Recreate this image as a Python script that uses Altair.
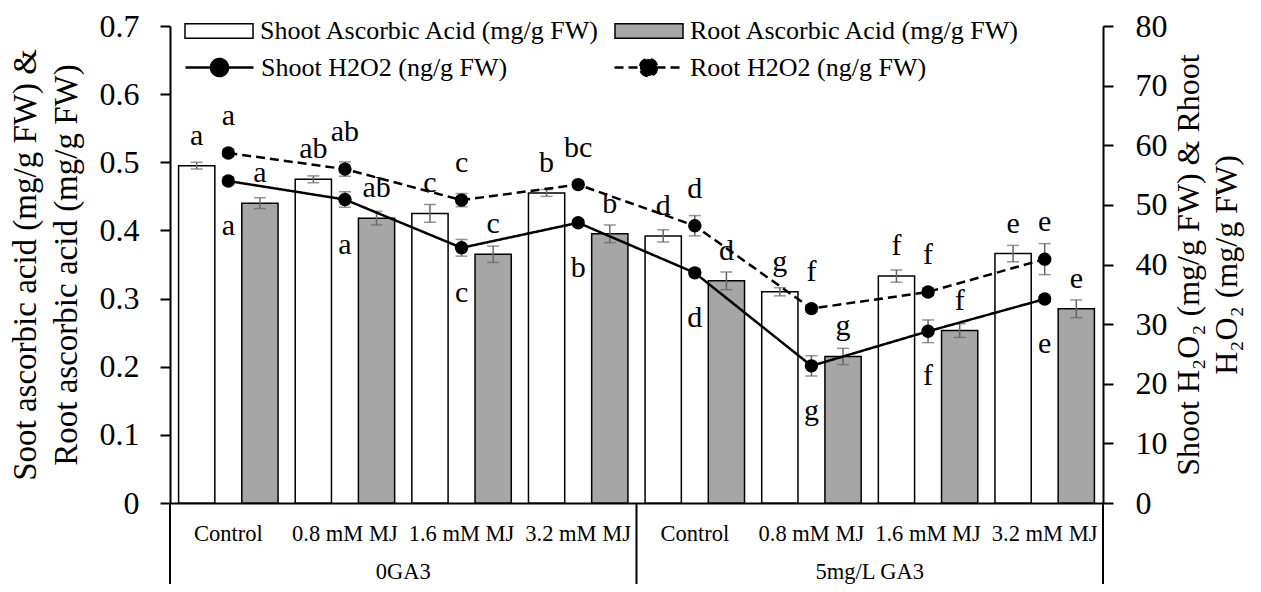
import altair as alt
import pandas as pd

FONT = "Liberation Serif"

groups = ["0GA3"] * 4 + ["5mg/L GA3"] * 4
treatments = ["Control", "0.8 mM MJ", "1.6 mM MJ", "3.2 mM MJ"] * 2

shoot_aa = [0.495, 0.475, 0.425, 0.455, 0.392, 0.310, 0.333, 0.366]
shoot_aa_err = [0.005, 0.005, 0.013, 0.005, 0.009, 0.006, 0.009, 0.012]
root_aa = [0.440, 0.418, 0.365, 0.395, 0.326, 0.215, 0.253, 0.285]
root_aa_err = [0.008, 0.010, 0.012, 0.013, 0.013, 0.012, 0.010, 0.013]
shoot_h2o2 = [54.0, 50.9, 42.8, 47.0, 38.6, 23.0, 28.8, 34.2]
shoot_h2o2_err = [0.6, 1.3, 1.4, 0.5, 0.6, 1.7, 1.9, 0.4]
root_h2o2 = [58.7, 56.0, 50.8, 53.4, 46.5, 32.6, 35.4, 40.9]
root_h2o2_err = [0.6, 1.2, 1.1, 0.5, 1.7, 0.6, 0.6, 2.6]

shoot_aa_letters = ["a", "ab", "c", "b", "d", "g", "f", "e"]
root_aa_letters = ["a", "ab", "c", "b", "d", "g", "f", "e"]
shoot_h2o2_letters = ["a", "a", "c", "b", "d", "g", "f", "e"]
root_h2o2_letters = ["a", "ab", "c", "bc", "d", "f", "f", "e"]

aa_series = ["Shoot Ascorbic Acid (mg/g FW)", "Root Ascorbic Acid (mg/g FW)"]
h2_series = ["Shoot H2O2 (ng/g FW)", "Root H2O2 (ng/g FW)"]
group_names = ["0GA3", "5mg/L GA3"]

keys = [f"{i}|{t}" for i, t in enumerate(treatments)]

bar_rows = []
for i, k in enumerate(keys):
    bar_rows.append(dict(key=k, series=aa_series[0], value=shoot_aa[i],
                         lo=shoot_aa[i] - shoot_aa_err[i], hi=shoot_aa[i] + shoot_aa_err[i],
                         letter=shoot_aa_letters[i]))
    bar_rows.append(dict(key=k, series=aa_series[1], value=root_aa[i],
                         lo=root_aa[i] - root_aa_err[i], hi=root_aa[i] + root_aa_err[i],
                         letter=root_aa_letters[i]))
df_bar = pd.DataFrame(bar_rows)

pt_rows = []
for i, k in enumerate(keys):
    pt_rows.append(dict(key=k, idx=i, series=h2_series[0], value=shoot_h2o2[i],
                        lo=shoot_h2o2[i] - shoot_h2o2_err[i], hi=shoot_h2o2[i] + shoot_h2o2_err[i],
                        letter=shoot_h2o2_letters[i]))
    pt_rows.append(dict(key=k, idx=i, series=h2_series[1], value=root_h2o2[i],
                        lo=root_h2o2[i] - root_h2o2_err[i], hi=root_h2o2[i] + root_h2o2_err[i],
                        letter=root_h2o2_letters[i]))
df_pt = pd.DataFrame(pt_rows)

df_grp = pd.DataFrame({"key": [keys[2], keys[6]], "grp": group_names})
df_sep = pd.DataFrame({"key": [keys[0], keys[4]]})
df_sep_end = pd.DataFrame({"key": [keys[7]]})

W, H = 933, 477
ERR_COLOR = "#666666"

x_scale = alt.Scale(domain=keys, paddingInner=0, paddingOuter=0)
x_axis = alt.Axis(labelExpr="split(datum.label, '|')[1]", ticks=False,
                  labelFontSize=22.5, labelPadding=19, domainWidth=2,
                  labelAngle=0, labelOverlap=False, labelLimit=0, title=None)


def X(**kw):
    return alt.X("key:N", scale=x_scale, axis=x_axis, title=None, **kw)


xoff = alt.XOffset("series:N", scale=alt.Scale(domain=aa_series, paddingInner=0.4265,
                                              paddingOuter=0.136))

left_scale = alt.Scale(domain=[0, 0.7], nice=False, zero=True)
right_scale = alt.Scale(domain=[0, 80], nice=False, zero=True)

left_title = ["Soot ascorbic acid (mg/g FW) &", "Root ascorbic acid (mg/g FW)"]
right_title = ["Shoot H\u2082O\u2082 (mg/g FW) & Rhoot", "H\u2082O\u2082 (mg/g FW)"]

left_axis = alt.Axis(orient="left", values=[0, 0.1, 0.2, 0.3, 0.4, 0.5, 0.6, 0.7], format="~g",
                     tickSize=10, tickWidth=2, domainWidth=2, labelFontSize=32, labelPadding=21,
                     title=left_title, titleFontSize=33, titleLineHeight=41, titlePadding=16)
right_axis = alt.Axis(orient="right", values=list(range(0, 81, 10)),
                      tickSize=10, tickWidth=2, domainWidth=2, labelFontSize=32, labelPadding=22,
                      title=right_title, titleFontSize=32, titleLineHeight=38, titlePadding=0,
                      titleAngle=270)


def YL(field):
    return alt.Y(field, scale=left_scale, axis=left_axis, title=left_title)


def YR(field):
    return alt.Y(field, scale=right_scale, axis=right_axis, title=right_title)


rect_path = "M-1,-0.215H1V0.215H-1Z"
line_dot_path = "M-1,0H1M0.25,0A0.25,0.25,0,1,1,-0.25,0A0.25,0.25,0,1,1,0.25,0Z"

bars = alt.Chart(df_bar).mark_bar(stroke="black", strokeWidth=1.5).encode(
    x=X(), xOffset=xoff,
    y=YL("value:Q"),
    fill=alt.Fill("series:N", scale=alt.Scale(domain=aa_series, range=["white", "#a6a6a6"]),
                  legend=alt.Legend(orient="none", legendX=14, legendY=-30, direction="horizontal",
                                    columns=2, title=None, symbolType=rect_path, symbolSize=4624,
                                    symbolStrokeColor="black", symbolStrokeWidth=1.5,
                                    labelFont=FONT, labelFontSize=26, labelOffset=6,
                                    columnPadding=11, labelLimit=0, padding=0)),
)
bar_err = alt.Chart(df_bar).mark_rule(color=ERR_COLOR, strokeWidth=1.5).encode(
    x=X(), xOffset=xoff, y=YL("lo:Q"), y2="hi:Q")
bar_cap_hi = alt.Chart(df_bar).mark_tick(color=ERR_COLOR, thickness=1.5, size=12).encode(
    x=X(), xOffset=xoff, y=YL("hi:Q"))
bar_cap_lo = alt.Chart(df_bar).mark_tick(color=ERR_COLOR, thickness=1.5, size=12).encode(
    x=X(), xOffset=xoff, y=YL("lo:Q"))
bar_txt = alt.Chart(df_bar).mark_text(font=FONT, fontSize=30, baseline="middle", dy=-30,
                                      color="black").encode(
    x=X(), xOffset=xoff, y=YL("value:Q"), text="letter:N")

left_layer = alt.layer(bars, bar_err, bar_cap_hi, bar_cap_lo, bar_txt)

lines = alt.Chart(df_pt).mark_line(color="black", strokeWidth=2.5).encode(
    x=X(),
    y=YR("value:Q"),
    strokeDash=alt.StrokeDash("series:N", scale=alt.Scale(domain=h2_series, range=[[1, 0], [9, 5]]),
                              legend=alt.Legend(orient="none", legendX=14, legendY=6,
                                                direction="horizontal", columns=2, title=None,
                                                symbolType=line_dot_path, symbolSize=4624,
                                                symbolStrokeColor="black", symbolFillColor="black",
                                                symbolStrokeWidth=2.5, labelFont=FONT,
                                                labelFontSize=26, labelOffset=6, columnPadding=101,
                                                labelLimit=0, padding=0)),
    order="idx:Q",
)
pt_err = alt.Chart(df_pt).mark_rule(color=ERR_COLOR, strokeWidth=1.5).encode(
    x=X(), y=YR("lo:Q"), y2="hi:Q")
pt_cap_hi = alt.Chart(df_pt).mark_tick(color=ERR_COLOR, thickness=1.5, size=12).encode(
    x=X(), y=YR("hi:Q"))
pt_cap_lo = alt.Chart(df_pt).mark_tick(color=ERR_COLOR, thickness=1.5, size=12).encode(
    x=X(), y=YR("lo:Q"))
points = alt.Chart(df_pt).mark_circle(size=180, color="black", opacity=1).encode(
    x=X(), y=YR("value:Q"))
root_txt = alt.Chart(df_pt).transform_filter(alt.datum.series == h2_series[1]).mark_text(
    font=FONT, fontSize=30, baseline="middle", dy=-37, color="black").encode(
    x=X(), y=YR("value:Q"), text="letter:N")
shoot_txt = alt.Chart(df_pt).transform_filter(alt.datum.series == h2_series[0]).mark_text(
    font=FONT, fontSize=30, baseline="middle", dy=45, color="black").encode(
    x=X(), y=YR("value:Q"), text="letter:N")

grp_txt = alt.Chart(df_grp).mark_text(font=FONT, fontSize=22.5, baseline="alphabetic",
                                      align="center", color="black").encode(
    x=X(bandPosition=0), y=alt.value(H + 76), text="grp:N")
sep = alt.Chart(df_sep).mark_rule(color="black", strokeWidth=2).encode(
    x=X(bandPosition=0), y=alt.value(H), y2=alt.value(H + 100))
sep_end = alt.Chart(df_sep_end).mark_rule(color="black", strokeWidth=2).encode(
    x=X(bandPosition=1), y=alt.value(H), y2=alt.value(H + 100))

right_layer = alt.layer(lines, pt_err, pt_cap_hi, pt_cap_lo, points, root_txt, shoot_txt,
                        grp_txt, sep, sep_end)

chart = alt.layer(left_layer, right_layer).resolve_scale(
    y="independent", fill="independent", strokeDash="independent"
).properties(
    width=W, height=H,
    autosize=alt.AutoSizeParams(type="none"),
    padding={"left": 162, "top": 18, "right": 150, "bottom": 81},
    background="white",
).configure_view(stroke=None).configure_axis(
    grid=False, domainColor="black", tickColor="black", labelColor="black", titleColor="black",
    labelFont=FONT, titleFont=FONT, titleFontWeight="normal",
)

chart.save("out.html", embed_options={"renderer": "svg", "actions": False})
